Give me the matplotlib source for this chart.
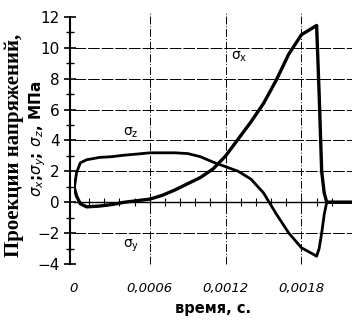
import matplotlib
matplotlib.use("Agg")
import matplotlib.pyplot as plt
import numpy as np

# time, s
t_x = [0, 0.00002, 0.00005, 0.0001, 0.0002, 0.0003, 0.0004, 0.0005, 0.0006,
       0.0007, 0.0008, 0.0009, 0.001, 0.0011, 0.0012, 0.0013, 0.0014, 0.0015,
       0.0016, 0.0017, 0.0018, 0.00185, 0.0019, 0.00192, 0.00194, 0.00196,
       0.00198, 0.002, 0.0021, 0.0022]
sigma_x = [1.0, 0.4, -0.1, -0.3, -0.25, -0.15, 0.0, 0.1, 0.2,
           0.45, 0.8, 1.2, 1.6, 2.15, 3.0, 4.1, 5.2, 6.4,
           7.9, 9.6, 10.85, 11.1, 11.35, 11.45, 7.0, 2.0,
           0.6, 0.0, 0.0, 0.0]

t_z = [0, 0.00002, 0.00005, 0.0001, 0.0002, 0.0003, 0.0004, 0.0005, 0.0006,
       0.0007, 0.0008, 0.0009, 0.001, 0.0011, 0.0012, 0.0013, 0.0014, 0.0015,
       0.0016, 0.0017, 0.0018, 0.0019, 0.00192, 0.00194, 0.00196, 0.00198,
       0.002, 0.0021, 0.0022]
sigma_z = [0.8, 1.9, 2.55, 2.75, 2.9, 2.95, 3.05, 3.12, 3.2,
           3.2, 3.2, 3.15, 2.95, 2.6, 2.3, 2.0, 1.5, 0.6,
           -0.75, -2.0, -2.95, -3.4, -3.5, -3.0, -2.0, -0.8,
           0.0, 0.0, 0.0]

x_ticks = [0, 0.0006, 0.0012, 0.0018]
x_labels = ["0", "0,0006", "0,0012", "0,0018"]
y_ticks = [-4, -2, 0, 2, 4, 6, 8, 10, 12]
grid_y = [-2, 2, 4, 6, 8, 10]
grid_x = [0.0006, 0.0012, 0.0018]

fig = plt.figure(figsize=(3.52, 3.23), dpi=100)
ax = fig.add_axes([74 / 352, 0.1684, 278 / 352, 0.803])
ax.set_xlim(0, 0.0022)
ax.set_ylim(-4.3, 12.5)

# grid
for g in grid_y:
    ax.axhline(g, color="black", lw=0.7, ls=(0, (12, 2)), zorder=1)
for g in grid_x:
    ax.plot([g, g], [-4, 12.3], color="black", lw=0.7, ls=(0, (8, 2, 1, 2)), zorder=1)
ax.axhline(0, color="black", lw=1.0, zorder=1)

# curves
ax.plot(t_x, sigma_x, color="black", lw=2.4, solid_joinstyle="round", zorder=3)
ax.plot(t_z, sigma_z, color="black", lw=2.0, solid_joinstyle="round", zorder=3)

ax.text(0.00131, 9.4, r"$\mathrm{\sigma_x}$", fontsize=10, ha="center", va="center")
ax.text(0.00045, 4.5, r"$\mathrm{\sigma_z}$", fontsize=10, ha="center", va="center")
ax.text(0.00045, -2.8, r"$\mathrm{\sigma_y}$", fontsize=10, ha="center", va="center")

# axes styling
for s in ["top", "right", "bottom"]:
    ax.spines[s].set_visible(False)
ax.spines["left"].set_position(("data", -0.00003))
ax.spines["left"].set_bounds(-4, 12)
ax.spines["left"].set_linewidth(1.5)
ax.set_yticks(y_ticks)
ax.set_yticks([-3, -1, 1, 3, 5, 7, 9, 11], minor=True)
ax.tick_params(axis="y", which="major", direction="inout", length=9, width=1.2,
               labelsize=11, pad=3)
ax.tick_params(axis="y", which="minor", direction="inout", length=6, width=1.0)

ax.set_xticks(x_ticks)
ax.set_xticklabels(x_labels, fontstyle="italic")
ax.tick_params(axis="x", length=0, labelsize=9.5, pad=10)

sec = ax.secondary_xaxis(0, transform=ax.transData)
sec.spines["bottom"].set_visible(False)
sec.set_xticks(np.arange(0.00012, 0.0021, 0.00012))
sec.tick_params(direction="inout", length=6, width=0.8, labelbottom=False)

ax.set_xlabel("время, с.", fontsize=10.5, fontweight="bold", labelpad=4)

fig.text(0.04, 0.55, "Проекции напряжений,", rotation=90, ha="center", va="center",
         family="Liberation Serif", fontweight="bold", fontsize=15)
fig.text(0.108, 0.57, r"$\sigma_x$;$\sigma_y$; $\sigma_z$, МПа", rotation=90,
         ha="center", va="center", fontsize=11, fontweight="bold")

fig.savefig("out.png", dpi=100)
